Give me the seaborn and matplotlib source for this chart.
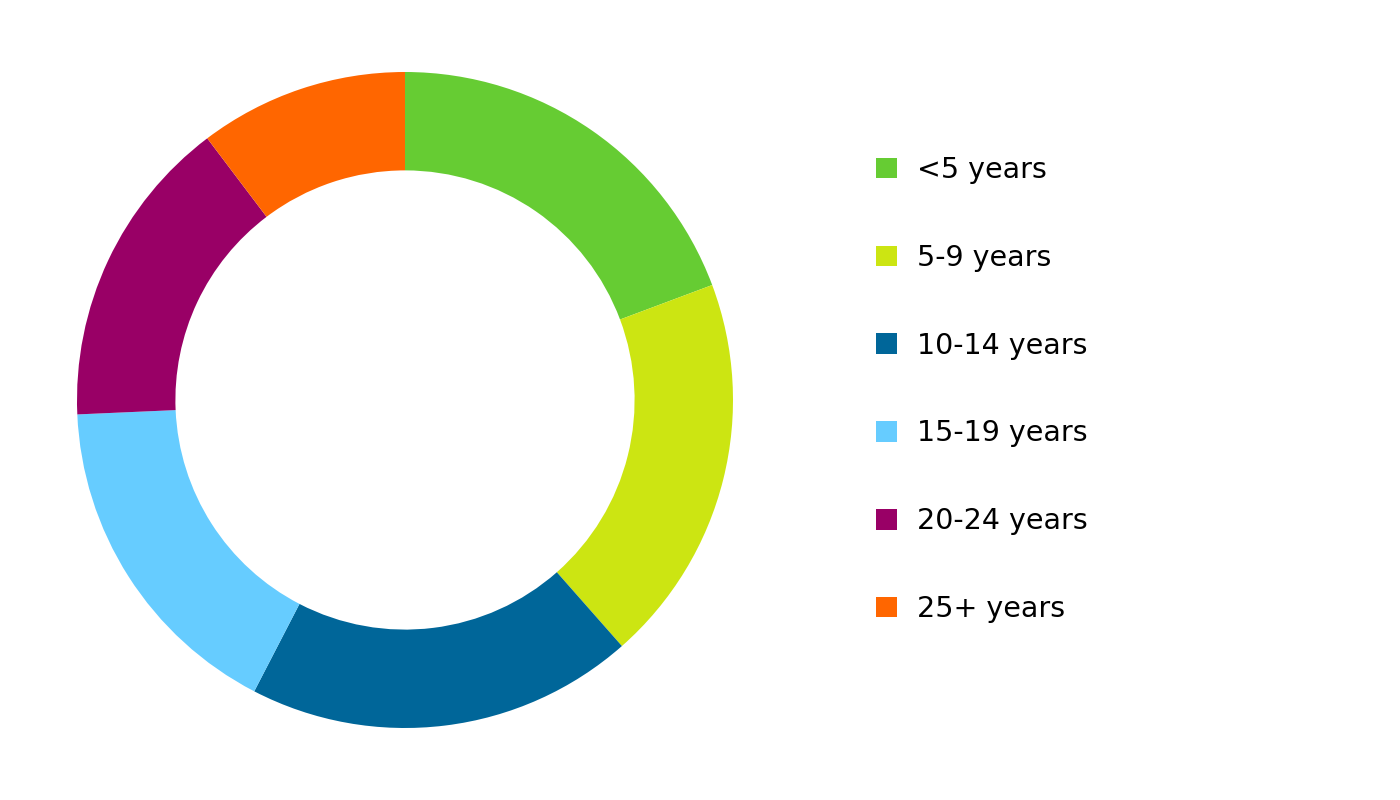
import matplotlib
matplotlib.use("Agg")
import matplotlib.pyplot as plt
import seaborn as sns

# Data
labels = ["<5 years", "5-9 years", "10-14 years", "15-19 years", "20-24 years", "25+ years"]
shares = [19.3, 19.2, 19.1, 16.7, 15.4, 10.3]
colors = ["#66CC33", "#CCE512", "#006699", "#66CCFF", "#990066", "#FF6600"]

sns.set_theme(style="white")
plt.rcParams['font.family'] = ['DejaVu Sans']

fig = plt.figure(figsize=(14, 8), dpi=100)
# ring centre at (405, 400) px, outer radius ~328 px
ax = fig.add_axes([(405 - 328) / 1400, (400 - 328) / 800, 656 / 1400, 656 / 800])

wedges, _ = ax.pie(shares, colors=colors, startangle=90, counterclock=False,
                   radius=1.0, wedgeprops=dict(width=0.30, linewidth=0))
ax.set_xlim(-1, 1)
ax.set_ylim(-1, 1)
ax.set_aspect("equal")
ax.axis("off")

leg = fig.legend(wedges, labels, loc="upper left", bbox_to_anchor=(876 / 1400, 1 - 156 / 800),
                 frameon=False, fontsize=20.5, handlelength=0.74, handleheight=0.74,
                 handletextpad=0.7, labelspacing=2.1, borderpad=0, borderaxespad=0)
for t in leg.get_texts():
    t.set_color("black")

fig.savefig("out.png", dpi=100, facecolor="white")
